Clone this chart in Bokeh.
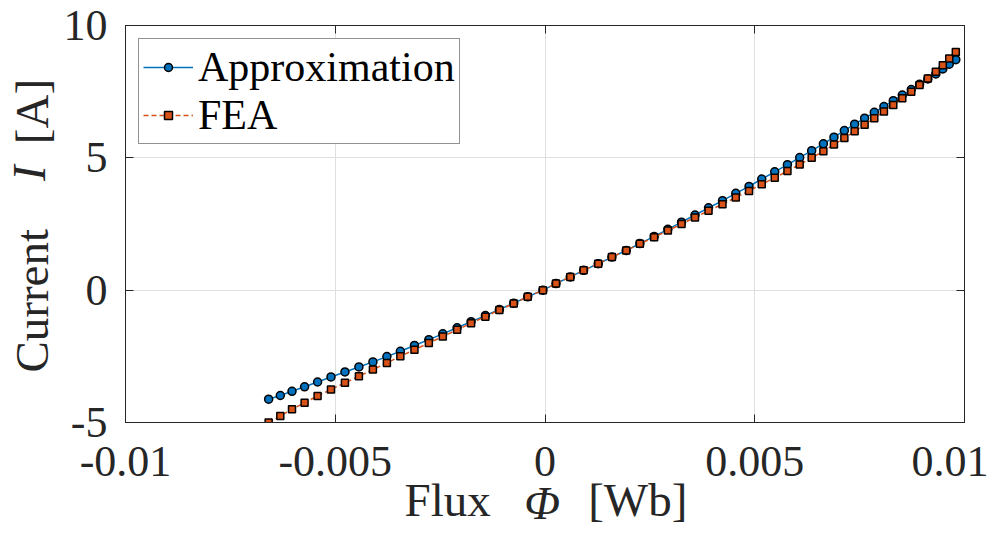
import math
from bokeh.plotting import figure
from bokeh.models import (FixedTicker, Legend, LegendItem, LinearAxis, Range1d,
                          CustomJSTickFormatter)
from bokeh.embed import file_html
from bokeh.resources import INLINE

# ---- data ----
flux = [-0.006588, -0.006310, -0.006031, -0.005731, -0.005421, -0.005102, -0.004769,
        -0.004436, -0.004102, -0.003769, -0.003448, -0.003112, -0.002769, -0.002436,
        -0.002095, -0.001762, -0.001421, -0.001088, -0.000745, -0.000412, -0.000050,
        0.000262, 0.000602, 0.000921, 0.001269, 0.001595, 0.001936, 0.002262,
        0.002602, 0.002929, 0.003255, 0.003576, 0.003898, 0.004231, 0.004548,
        0.004864, 0.005167, 0.005476, 0.005779, 0.006071, 0.006357, 0.006636,
        0.006888, 0.007136, 0.007381, 0.007619, 0.007850, 0.008079, 0.008302,
        0.008517, 0.008731, 0.008929, 0.009126, 0.009317, 0.009483, 0.009636, 0.009793]

current_fea = [-5.00, -4.75, -4.50, -4.25, -4.00, -3.75, -3.50, -3.25, -3.00, -2.75,
               -2.50, -2.25, -2.00, -1.75, -1.50, -1.25, -1.00, -0.75, -0.50, -0.25,
               0.00, 0.25, 0.50, 0.75, 1.00, 1.25, 1.50, 1.75, 2.00, 2.25,
               2.50, 2.75, 3.00, 3.25, 3.50, 3.75, 4.00, 4.25, 4.50, 4.75,
               5.00, 5.25, 5.50, 5.75, 6.00, 6.25, 6.50, 6.75, 7.00, 7.25,
               7.50, 7.75, 8.00, 8.25, 8.50, 8.75, 9.00]

current_approx = [-4.12, -3.98, -3.82, -3.65, -3.47, -3.28, -3.09, -2.90, -2.71, -2.51,
                  -2.31, -2.09, -1.87, -1.65, -1.42, -1.19, -0.96, -0.73, -0.49, -0.25,
                  0.00, 0.25, 0.50, 0.75, 1.00, 1.25, 1.50, 1.76, 2.03, 2.30,
                  2.57, 2.84, 3.11, 3.38, 3.66, 3.92, 4.20, 4.47, 4.74, 5.01,
                  5.27, 5.53, 5.78, 6.03, 6.27, 6.50, 6.72, 6.94, 7.16, 7.37,
                  7.58, 7.78, 7.98, 8.17, 8.36, 8.54, 8.71]

series_names = ["Approximation", "FEA"]
x_ticks = [-0.01, -0.005, 0, 0.005, 0.01]
x_tick_labels = ["-0.01", "-0.005", "0", "0.005", "0.01"]
y_ticks = [-5, 0, 5, 10]
y_tick_labels = ["-5", "0", "5", "10"]
# axis titles: roman parts and italic symbol, each centred at a data position
x_title_roman = ["Flux", "[Wb]"]
x_title_roman_at = [-0.00232, 0.00221]
x_title_italic = ["\u03a6"]
x_title_italic_at = [-0.00007]
y_title_roman = ["Current", "[A]"]
y_title_roman_at = [-0.40, 6.75]
y_title_italic = ["I"]
y_title_italic_at = [4.42]

# ---- style ----
FONT = "Liberation Serif"
AX = "#262626"
BLUE = "#0072BD"
ORANGE = "#D95319"
TITLE_SIZE = "47px"
TITLE_H = 52          # text box height of a 47px label


def list_formatter(labels):
    return CustomJSTickFormatter(args=dict(labels=labels), code="return labels[index];")


def blank_formatter():
    return CustomJSTickFormatter(code="return '';")


p = figure(width=988, height=531, output_backend="svg", toolbar_location=None,
           x_range=Range1d(-0.01, 0.01), y_range=Range1d(-5, 10),
           min_border_left=124, min_border_right=24, min_border_top=25,
           min_border_bottom=107)
p.background_fill_color = "white"
p.border_fill_color = "white"
p.outline_line_color = AX
p.outline_line_width = 1

for ax, ticks, labels in ((p.xaxis[0], x_ticks, x_tick_labels),
                          (p.yaxis[0], y_ticks, y_tick_labels)):
    ax.ticker = FixedTicker(ticks=ticks)
    ax.formatter = list_formatter(labels)
    ax.major_label_text_font = FONT
    ax.major_label_text_font_size = "44px"
    ax.major_label_text_color = AX
    ax.axis_line_color = AX
    ax.major_tick_line_color = AX
    ax.major_tick_in = 8
    ax.major_tick_out = 0
    ax.minor_tick_line_color = None
p.xaxis[0].major_label_standoff = 24
p.yaxis[0].major_label_standoff = 18

# box ticks on top and right
top_ax = LinearAxis(ticker=FixedTicker(ticks=x_ticks), formatter=blank_formatter(),
                    major_label_text_font_size="1px", major_label_standoff=0,
                    major_tick_in=8, major_tick_out=0, minor_tick_line_color=None,
                    axis_line_color=AX, major_tick_line_color=AX)
right_ax = LinearAxis(ticker=FixedTicker(ticks=y_ticks), formatter=blank_formatter(),
                      major_label_text_font_size="1px", major_label_standoff=0,
                      major_tick_in=8, major_tick_out=0, minor_tick_line_color=None,
                      axis_line_color=AX, major_tick_line_color=AX)
p.add_layout(top_ax, "above")
p.add_layout(right_ax, "right")


def title_axis(ticks, labels, style, standoff, orientation):
    return LinearAxis(ticker=FixedTicker(ticks=ticks), formatter=list_formatter(labels),
                      major_label_text_font=FONT, major_label_text_font_size=TITLE_SIZE,
                      major_label_text_font_style=style, major_label_text_color=AX,
                      major_label_standoff=standoff, major_label_orientation=orientation,
                      axis_line_color=None, major_tick_line_color=None,
                      minor_tick_line_color=None, major_tick_in=0, major_tick_out=0)


# x title: roman row, then italic row pulled back up onto the same line
p.add_layout(title_axis(x_title_roman_at, x_title_roman, "normal", -5, "horizontal"), "below")
p.add_layout(title_axis(x_title_italic_at, x_title_italic, "italic", -TITLE_H, "horizontal"), "below")
# y title (reads bottom to top)
p.add_layout(title_axis(y_title_roman_at, y_title_roman, "normal", 2, "parallel"), "left")
p.add_layout(title_axis(y_title_italic_at, y_title_italic, "italic", -TITLE_H, "parallel"), "left")

p.xgrid.ticker = FixedTicker(ticks=x_ticks)
p.ygrid.ticker = FixedTicker(ticks=y_ticks)
p.xgrid.grid_line_color = "#dfdfdf"
p.ygrid.grid_line_color = "#dfdfdf"

# ---- series ----
l1 = p.line(flux, current_approx, line_color=BLUE, line_width=1.5)
s1 = p.scatter(flux, current_approx, marker="circle", size=8, fill_color=BLUE,
               line_color="black", line_width=1.5)
l2 = p.line(flux, current_fea, line_color=ORANGE, line_width=1.5, line_dash="5 3")
s2 = p.scatter(flux, current_fea, marker="square", size=7, fill_color=ORANGE,
               line_color="black", line_width=1.5)

legend = Legend(items=[LegendItem(label=series_names[0], renderers=[l1, s1]),
                       LegendItem(label=series_names[1], renderers=[l2, s2])],
                location="top_left", margin=13, padding=4, spacing=0,
                glyph_width=50, glyph_height=20, label_height=46, label_standoff=5,
                label_text_font=FONT, label_text_font_size="42px",
                label_text_color="black", label_text_baseline="middle",
                border_line_color=AX, border_line_width=1,
                background_fill_color="white", background_fill_alpha=1)
p.add_layout(legend)

open("out.html", "w").write(file_html(p, INLINE))
